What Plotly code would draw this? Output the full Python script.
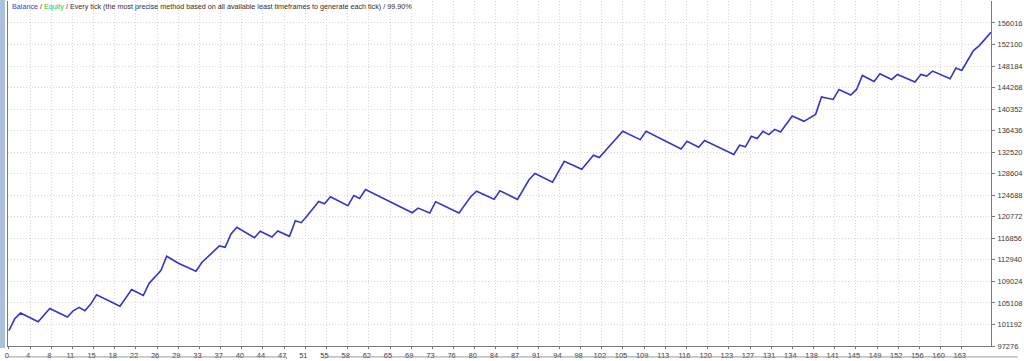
import plotly.graph_objects as go

# Trade number (vertices of the balance curve) and balance values
trade_no = [0, 1, 2, 5, 7, 10, 11, 12, 13, 14, 15, 19, 21, 23, 24, 26, 27, 29, 32, 33,
            36, 37, 38, 39, 42, 43, 45, 46, 48, 49, 50, 51, 53, 54, 55, 58, 59, 60, 61, 69,
            70, 72, 73, 77, 79, 80, 83, 84, 87, 88, 89, 90, 93, 95, 98, 100, 101, 105, 108, 109,
            115, 116, 118, 119, 124, 125, 126, 127, 128, 129, 130, 131, 132, 134, 136, 138, 139, 141, 142, 144,
            145, 146, 148, 149, 151, 152, 155, 156, 157, 158, 161, 162, 163, 165, 166, 168]
balance = [100050, 102226, 103259, 101682, 104111, 102534, 103676, 104292, 103676, 104891,
           106577, 104528, 107556, 106468, 108698, 111000, 113593, 112324, 110874, 112451,
           115460, 115225, 117636, 118851, 116983, 118126, 117092, 118180, 117219, 120065,
           119703, 120899, 123565, 123148, 124417, 122785, 124652, 124108, 125740, 121516,
           122350, 121443, 123510, 121443, 124417, 125432, 123981, 125504, 123927, 125613,
           127553, 128641, 127064, 130871, 129420, 131959, 131542, 136310, 134805, 136310,
           133119, 134497, 133409, 134624, 132086, 133772, 133482, 135403, 134986, 136310,
           135712, 136672, 136201, 139102, 138123, 139392, 142547, 142112, 143924, 142909,
           143924, 146463, 145375, 146771, 145738, 146644, 145266, 146644, 146354, 147260,
           145864, 147804, 147369, 150995, 151902, 154331]

x_tick_labels = [0, 4, 8, 11, 15, 18, 22, 26, 29, 33, 37, 40, 44, 47, 51, 55, 58, 62, 65, 69,
                 73, 76, 80, 84, 87, 91, 94, 98, 102, 105, 109, 113, 116, 120, 123, 127, 131, 134,
                 138, 141, 145, 149, 152, 156, 160, 163]
y_ticks = [97276, 101192, 105108, 109024, 112940, 116856, 120772, 124688, 128604, 132520,
           136436, 140352, 144268, 148184, 152100, 156016]

# the terminal spaces its x grid evenly and prints the rounded trade number
x_step = x_tick_labels[-1] / (len(x_tick_labels) - 1)
x_tickvals = [i * x_step for i in range(len(x_tick_labels))]

FONT = "Liberation Sans"
W, H = 1024, 361
ML, MR, MT, MB = 8, 27, 1, 13
PW, PH = W - ML - MR, H - MT - MB


def px(xp):
    return (xp - ML) / PW


def py(yp):
    return (H - MB - yp) / PH


GRID = "#d6d6d6"
fig = go.Figure()
fig.add_trace(go.Scatter(
    x=trade_no, y=balance, mode="lines",
    line=dict(color="#3434c8", width=1.6),
    hoverinfo="skip", showlegend=False,
))

fig.update_layout(
    width=W, height=H,
    margin=dict(l=ML, r=MR, t=MT, b=MB, pad=0),
    paper_bgcolor="white", plot_bgcolor="white",
    font=dict(family=FONT, size=7.5, color="#3a3a3a"),
    showlegend=False,
    xaxis=dict(
        range=[-0.15, 168], tickmode="array", tickvals=x_tickvals,
        ticktext=[str(v) for v in x_tick_labels],
        showgrid=True, gridcolor=GRID, griddash="1px,2px", gridwidth=1,
        zeroline=False, showline=True, linecolor="#7a7a7a", linewidth=1,
        ticks="outside", ticklen=2, tickcolor="#7a7a7a",
        tickfont=dict(family=FONT, size=7.5, color="#3a3a3a"),
        ticklabelshift=-2, ticklabelstandoff=0,
    ),
    yaxis=dict(
        range=[97276, 160006], side="right", tickmode="array", tickvals=y_ticks,
        ticktext=[str(v) for v in y_ticks],
        showgrid=True, gridcolor=GRID, griddash="1px,2px", gridwidth=1,
        zeroline=False, showline=True, linecolor="#7a7a7a", linewidth=1, mirror=True,
        ticks="outside", ticklen=3, tickcolor="#7a7a7a",
        tickfont=dict(family=FONT, size=7.5, color="#3a3a3a"),
        ticklabelstandoff=1,
    ),
)

title_html = ("<span style='color:#3c3cc8'>Balance</span> / "
              "<span style='color:#2fc22f'>Equity</span> / Every tick (the most precise method "
              "based on all available least timeframes to generate each tick) / 99.90%")
fig.add_annotation(
    text=title_html, xref="paper", yref="paper", x=px(10), y=py(7),
    xanchor="left", yanchor="middle", showarrow=False,
    font=dict(family=FONT, size=7.2, color="#2e2e2e"), bgcolor="rgba(255,255,255,0)",
)

# window chrome: left strip and bottom tab lines
fig.add_shape(type="rect", xref="paper", yref="paper",
              x0=px(0), x1=px(5), y0=py(350), y1=py(0),
              fillcolor="#aac0dc", line=dict(width=0), layer="above")
fig.add_shape(type="line", xref="paper", yref="paper",
              x0=px(8), x1=px(288), y0=py(359), y1=py(359),
              line=dict(color="#9a9a9a", width=1))
fig.add_shape(type="line", xref="paper", yref="paper",
              x0=px(288), x1=px(288), y0=py(359), y1=py(361),
              line=dict(color="#9a9a9a", width=1))
fig.add_shape(type="line", xref="paper", yref="paper",
              x0=px(327), x1=px(1024), y0=py(359), y1=py(359),
              line=dict(color="#9a9a9a", width=1))
fig.add_shape(type="line", xref="paper", yref="paper",
              x0=px(327), x1=px(327), y0=py(359), y1=py(361),
              line=dict(color="#9a9a9a", width=1))

fig.write_html("out.html")
